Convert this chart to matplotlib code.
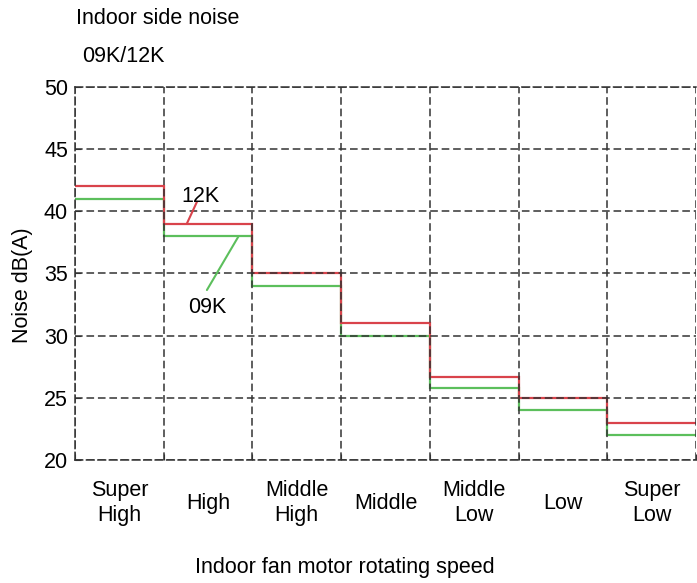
import numpy as np
import matplotlib.pyplot as plt

plt.rcParams['font.family'] = ['Liberation Sans', 'DejaVu Sans']

speeds = ['Super\nHigh', 'High', 'Middle\nHigh', 'Middle', 'Middle\nLow', 'Low', 'Super\nLow']
noise_12k = [42, 39, 35, 31, 26.7, 25, 23]
noise_09k = [41, 38, 34, 30, 25.8, 24, 22]
y_ticks = [20, 25, 30, 35, 40, 45, 50]

red = '#d9434b'
green = '#5cbf5c'
fs = 15.5

fig = plt.figure(figsize=(6.97, 5.83), dpi=100)
ax = fig.add_axes([75 / 697, 1 - 460 / 583, 621 / 697, 373 / 583])

edges = np.arange(len(speeds) + 1)
ax.stairs(noise_09k, edges, baseline=None, color=green, linewidth=1.6)
ax.stairs(noise_12k, edges, baseline=None, color=red, linewidth=1.6)

ax.set_xlim(0, len(speeds))
ax.set_ylim(20, 50)
ax.set_yticks(y_ticks)
ax.set_xticks(edges)
ax.set_xticklabels([])
ax.set_xticks(edges[:-1] + 0.5, minor=True)
ax.set_xticklabels(speeds, minor=True, fontsize=fs, linespacing=1.3)
for lbl in ax.get_xticklabels(minor=True):
    lbl.set_verticalalignment('center')
ax.tick_params(axis='x', which='minor', length=0, pad=31)
ax.tick_params(axis='x', which='major', direction='in', length=4, color='#333333')
ax.tick_params(axis='y', direction='in', length=4, color='#333333', labelsize=fs, pad=5)

dash = (0, (5, 2.5))
ax.grid(True, which='major', color='#333333', linestyle=dash, linewidth=1.1)
for side in ['left', 'bottom', 'top']:
    ax.spines[side].set_linestyle(dash)
    ax.spines[side].set_color('#333333')
    ax.spines[side].set_linewidth(1.1)
ax.spines['right'].set_visible(False)

ax.set_ylabel('Noise dB(A)', fontsize=fs)
ax.yaxis.set_label_coords(-0.068, 0.47)
ax.set_xlabel('Indoor fan motor rotating speed', fontsize=fs)
ax.xaxis.set_label_coords(0.435, -0.26)

# labels with leader lines
ax.annotate('', xy=(1.26, 39.0), xytext=(1.375, 40.77),
            arrowprops=dict(arrowstyle='-', color=red, lw=1.5, shrinkA=0, shrinkB=0))
ax.text(1.41, 41.2, '12K', fontsize=fs, ha='center', va='center')
ax.annotate('', xy=(1.844, 38.0), xytext=(1.487, 33.67),
            arrowprops=dict(arrowstyle='-', color=green, lw=1.5, shrinkA=0, shrinkB=0))
ax.text(1.487, 32.3, '09K', fontsize=fs, ha='center', va='center')

fig.text(76 / 697, 1 - 18 / 583, 'Indoor side noise', fontsize=fs, ha='left', va='center')
fig.text(82 / 697, 1 - 57 / 583, '09K/12K', fontsize=fs, ha='left', va='center')

fig.savefig('out.png', dpi=100)
